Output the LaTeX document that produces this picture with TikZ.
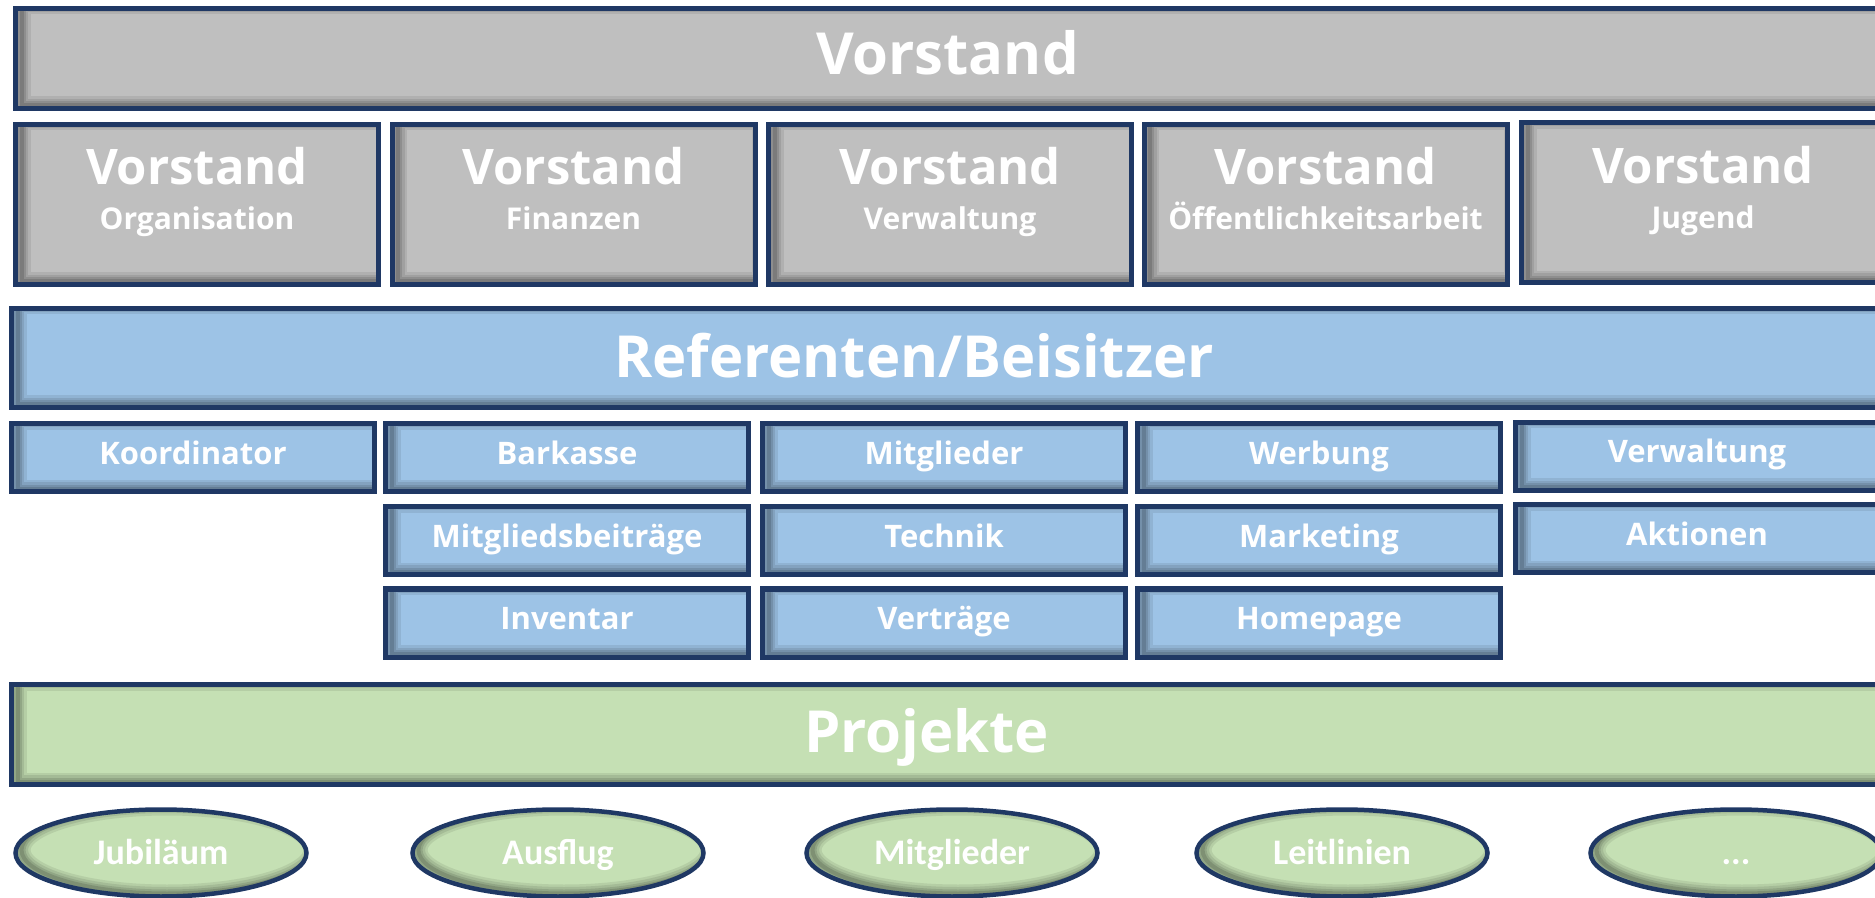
\documentclass[tikz,border=0pt]{standalone}
\usepackage{fontspec}
\setmainfont{Open Sans}
\newfontfamily\ellfont{Carlito}
\definecolor{navy}{HTML}{1F3864}
\definecolor{gfill}{HTML}{BFBFBF}
\definecolor{bfill}{HTML}{9DC3E6}
\definecolor{efill}{HTML}{C5E0B4}
\tikzset{
  box/.style={rectangle, draw=navy, line width=2.5pt, inner sep=0pt, outer sep=0pt, text=white},
  ishadow/.style={path picture={
    \foreach \ww/\oo in {9/0.08,6.5/0.09,4/0.11,2/0.13}{
      \draw[black, opacity=\oo, line width=\ww pt]
        ([xshift=3pt,yshift=1.5pt]path picture bounding box.south west) rectangle
        ([xshift=3pt,yshift=1.5pt]path picture bounding box.north east);
    }}},
  eshadow/.style={path picture={
    \foreach \ww/\oo in {9/0.08,6.5/0.09,4/0.11,2/0.13}{
      \draw[black, opacity=\oo, line width=\ww pt]
        ([xshift=3pt,yshift=1.5pt]path picture bounding box.center)
        ellipse [x radius=72.75pt, y radius=21.75pt];
    }}},
  bigtxt/.style={font=\bfseries\fontsize{29}{34}\selectfont, text=white},
  vtitle/.style={font=\bfseries\fontsize{24.5}{29}\selectfont, text=white, inner sep=0pt},
  vsub/.style={font=\bfseries\fontsize{15}{18}\selectfont, text=white, inner sep=0pt},
  vbox/.style={box, fill=gfill, ishadow, minimum width=181.5pt, minimum height=80pt},
  bar/.style={box, ishadow, minimum width=934pt, minimum height=50pt},
  sbox/.style={box, fill=bfill, ishadow, minimum width=181.5pt, minimum height=34pt,
    text height=6.5pt, text depth=0pt, font=\bfseries\fontsize{15.5}{18}\selectfont},
  ell/.style={ellipse, draw=navy, line width=2.25pt, fill=efill, eshadow, inner sep=0pt,
    outer sep=0pt, minimum width=145.5pt, minimum height=43.5pt, text=white,
    text height=11pt, text depth=0pt, font=\ellfont\bfseries\fontsize{18}{21}\selectfont}
}
\usetikzlibrary{shapes.geometric}
\begin{document}
\begin{tikzpicture}[x=0.5pt,y=-0.5pt]
\useasboundingbox (0,0) rectangle (1875,898);
\clip (0,0) rectangle (1875,898);
\fill[white] (0,0) rectangle (1875,898);

% top bar
\node[bar, fill=gfill, minimum width=932pt, text height=16.5pt, text depth=0pt, bigtxt] (vorstand) at (947.5,58.5) {Vorstand};

% row of Vorstand boxes
\node[vbox] (vorg) at (197,204.5) {};
\node[vtitle, anchor=base] (vorgT) at ([yshift=9.75pt]vorg.center) {Vorstand};
\node[vsub, anchor=base] (vorgS) at ([yshift=-12.75pt]vorg.center) {Organisation};

\node[vbox] (vfin) at (573.5,204.5) {};
\node[vtitle, anchor=base] (vfinT) at ([yshift=9.75pt]vfin.center) {Vorstand};
\node[vsub, anchor=base] (vfinS) at ([yshift=-12.75pt]vfin.center) {Finanzen};

\node[vbox] (vver) at (950,204.5) {};
\node[vtitle, anchor=base] (vverT) at ([yshift=9.75pt]vver.center) {Vorstand};
\node[vsub, anchor=base] (vverS) at ([yshift=-12.75pt]vver.center) {Verwaltung};

\node[vbox] (voef) at (1325.5,204.5) {};
\node[vtitle, anchor=base] (voefT) at ([yshift=9.75pt]voef.center) {Vorstand};
\node[vsub, anchor=base] (voefS) at ([yshift=-12.75pt]voef.center) {Öffentlichkeitsarbeit};

\node[vbox] (vjug) at (1703,203) {};
\node[vtitle, anchor=base] (vjugT) at ([yshift=9.75pt]vjug.center) {Vorstand};
\node[vsub, anchor=base] (vjugS) at ([yshift=-12.75pt]vjug.center) {Jugend};

% Referenten bar
\node[bar, fill=bfill, minimum height=49.5pt] (ref) at (945.5,358) {};
\node[bigtxt, anchor=base, inner sep=0pt] (refT) at (914,377.5) {Referenten/Beisitzer};

% small boxes
\node[sbox] (koord) at (193,458) {Koordinator};
\node[sbox] (bark) at (567,458) {Barkasse};
\node[sbox] (mbei) at (567,541) {Mitgliedsbeiträge};
\node[sbox] (inv) at (567,623) {Inventar};
\node[sbox] (mitg) at (944,458) {Mitglieder};
\node[sbox] (tech) at (944,541) {Technik};
\node[sbox] (vert) at (944,623) {Verträge};
\node[sbox] (werb) at (1319,458) {Werbung};
\node[sbox] (mark) at (1319,541) {Marketing};
\node[sbox] (home) at (1319,623) {Homepage};
\node[sbox] (verw) at (1697,456.5) {Verwaltung};
\node[sbox] (akt) at (1697,539) {Aktionen};

% Projekte bar
\node[bar, fill=efill] (proj) at (945.5,734.5) {};
\node[bigtxt, anchor=base, inner sep=0pt] (projT) at (926.5,752.5) {Projekte};

% project ellipses
\node[ell] (jub) at (161,853) {Jubiläum};
\node[ell] (ausf) at (558,853) {Ausflug};
\node[ell] (pmit) at (952,853) {Mitglieder};
\node[ell] (leit) at (1342,853) {Leitlinien};
\node[ell] (etc) at (1736,853) {...};
\end{tikzpicture}
\end{document}
